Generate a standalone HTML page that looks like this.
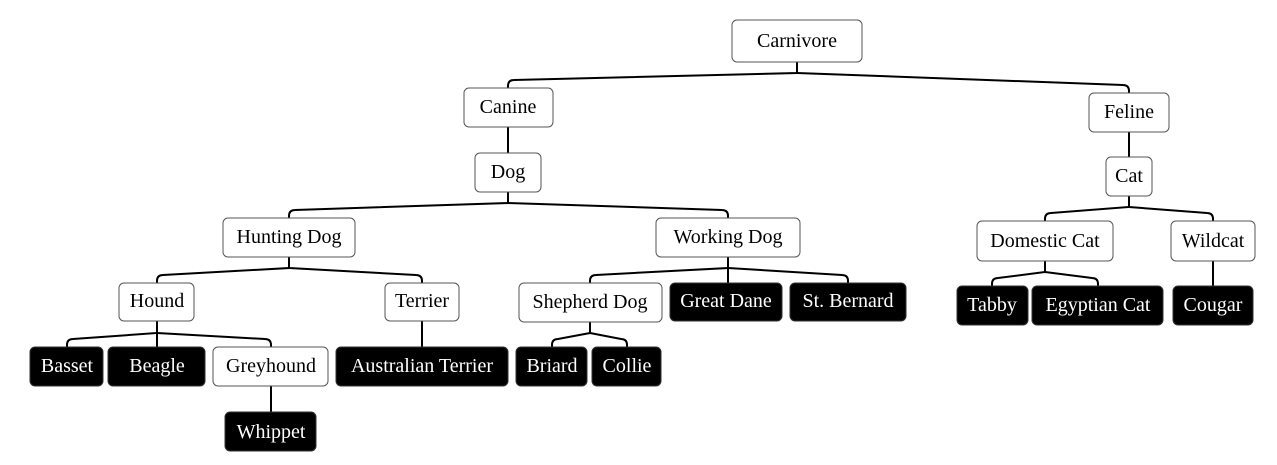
<!DOCTYPE html>
<html><head><meta charset="utf-8"><style>
html,body{margin:0;padding:0;background:#fff;width:1277px;height:465px;overflow:hidden}
text{font-family:"Liberation Serif",serif;font-size:20px;text-anchor:middle;dominant-baseline:central}
.w rect{fill:#fff;stroke:#555;stroke-width:1}
.w text{fill:#000}
.b rect{fill:#000;stroke:#333;stroke-width:1}
.b text{fill:#fff}
path{fill:none;stroke:#000;stroke-width:2}
</style></head><body>
<svg width="1277" height="465" viewBox="0 0 1277 465" xmlns="http://www.w3.org/2000/svg">
<!-- edges -->
<path d="M797 62V73L514 80Q508 80 508 86V88"/>
<path d="M797 73L1123 85Q1129 85 1129 91V93"/>
<path d="M508 127V153"/>
<path d="M508 192V203L295 210Q289 210 289 216V218"/>
<path d="M508 203L722 210Q728 210 728 216V218"/>
<path d="M289 257V268L163 275Q157 275 157 281V283"/>
<path d="M289 268L416 275Q422 275 422 281V283"/>
<path d="M728 257V268L596 275Q590 275 590 281V283"/>
<path d="M728 268V283"/>
<path d="M728 268L842 275Q848 275 848 281V283"/>
<path d="M157 321V333L73 339Q67 339 67 345V347"/>
<path d="M157 333V347"/>
<path d="M157 333L265 339Q271 339 271 345V347"/>
<path d="M422 321V347"/>
<path d="M590 322V333L558 339Q552 339 552 345V347"/>
<path d="M590 333L621 339Q627 339 627 345V347"/>
<path d="M271 386V412"/>
<path d="M1129 132V157"/>
<path d="M1129 196V207L1051 213Q1045 213 1045 219V221"/>
<path d="M1129 207L1207 213Q1213 213 1213 219V221"/>
<path d="M1045 261V272L998 278Q992 278 992 284V286"/>
<path d="M1045 272L1092 278Q1098 278 1098 284V286"/>
<path d="M1213 261V286"/>
<!-- nodes -->
<g class="w"><rect x="732" y="20" width="130" height="42" rx="5"/><text x="797" y="41">Carnivore</text></g>
<g class="w"><rect x="464" y="88" width="89" height="39" rx="5"/><text x="508" y="107">Canine</text></g>
<g class="w"><rect x="475" y="153" width="66" height="39" rx="5"/><text x="508" y="172">Dog</text></g>
<g class="w"><rect x="1089" y="93" width="80" height="39" rx="5"/><text x="1129" y="112">Feline</text></g>
<g class="w"><rect x="1106" y="157" width="46" height="39" rx="5"/><text x="1129" y="176">Cat</text></g>
<g class="w"><rect x="223" y="218" width="132" height="39" rx="5"/><text x="289" y="237">Hunting Dog</text></g>
<g class="w"><rect x="656" y="218" width="144" height="39" rx="5"/><text x="728" y="237">Working Dog</text></g>
<g class="w"><rect x="977" y="221" width="136" height="40" rx="5"/><text x="1045" y="241">Domestic Cat</text></g>
<g class="w"><rect x="1171" y="221" width="84" height="40" rx="5"/><text x="1213" y="241">Wildcat</text></g>
<g class="w"><rect x="119" y="283" width="75" height="38" rx="5"/><text x="157" y="301">Hound</text></g>
<g class="w"><rect x="385" y="283" width="74" height="38" rx="5"/><text x="422" y="301">Terrier</text></g>
<g class="w"><rect x="519" y="283" width="143" height="39" rx="5"/><text x="590" y="302">Shepherd Dog</text></g>
<g class="b"><rect x="670" y="283" width="112" height="38" rx="5"/><text x="726" y="301">Great Dane</text></g>
<g class="b"><rect x="790" y="283" width="116" height="38" rx="5"/><text x="848" y="301">St. Bernard</text></g>
<g class="b"><rect x="957" y="286" width="71" height="39" rx="5"/><text x="992" y="305">Tabby</text></g>
<g class="b"><rect x="1032" y="286" width="131" height="39" rx="5"/><text x="1098" y="305">Egyptian Cat</text></g>
<g class="b"><rect x="1173" y="286" width="80" height="39" rx="5"/><text x="1213" y="305">Cougar</text></g>
<g class="b"><rect x="30" y="347" width="73" height="39" rx="5"/><text x="67" y="366">Basset</text></g>
<g class="b"><rect x="108" y="347" width="97" height="39" rx="5"/><text x="157" y="366">Beagle</text></g>
<g class="w"><rect x="213" y="347" width="115" height="39" rx="5"/><text x="271" y="366">Greyhound</text></g>
<g class="b"><rect x="336" y="347" width="172" height="39" rx="5"/><text x="422" y="366">Australian Terrier</text></g>
<g class="b"><rect x="516" y="347" width="71" height="39" rx="5"/><text x="552" y="366">Briard</text></g>
<g class="b"><rect x="592" y="347" width="69" height="39" rx="5"/><text x="627" y="366">Collie</text></g>
<g class="b"><rect x="225" y="412" width="91" height="39" rx="5"/><text x="271" y="432">Whippet</text></g>
</svg>
</body></html>
